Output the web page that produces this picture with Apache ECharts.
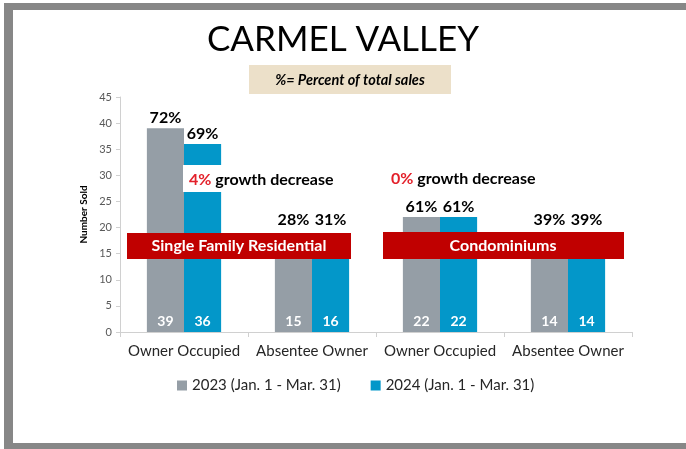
<!DOCTYPE html>
<html>
<head>
<meta charset="utf-8">
<title>Carmel Valley</title>
<script src="https://cdn.jsdelivr.net/npm/echarts@6/dist/echarts.min.js"></script>
<style>
  html, body { margin: 0; padding: 0; background: #fff; }
  #chart { width: 686px; height: 449px; }
</style>
</head>
<body>
<div id="chart"></div>
<script>
// data
const categories = ['Owner Occupied', 'Absentee Owner', 'Owner Occupied', 'Absentee Owner'];
const seriesNames = ['2023 (Jan. 1 - Mar. 31)', '2024 (Jan. 1 - Mar. 31)'];
const sold2023 = [39, 15, 22, 14];
const sold2024 = [36, 16, 22, 14];
const pct2023 = ['72%', '28%', '61%', '39%'];
const pct2024 = ['69%', '31%', '61%', '39%'];
const growth = ['4%', '0%'];
const groups = ['Single Family Residential', 'Condominiums'];

const GRAY = '#959ea6';
const BLUE = '#0397c9';
const RED_BANNER = '#c00000';
const RED_TEXT = '#e3202a';
const FONT = 'Lato, "Open Sans", sans-serif';
const LABEL_FLOOR = 19.5; // percent labels never sit below the red banners

const chart = echarts.init(document.getElementById('chart'));

const barLabel = {
  show: true,
  position: 'insideBottom',
  distance: 4,
  color: '#fff',
  fontWeight: 'bold',
  fontSize: 14,
  fontFamily: FONT
};

const option = {
  backgroundColor: '#fff',
  animation: false,
  title: {
    text: 'CARMEL VALLEY',
    left: 'center',
    top: 17,
    textStyle: { fontFamily: FONT, fontSize: 35, fontWeight: 'normal', color: '#000' }
  },
  legend: {
    data: seriesNames,
    top: 373,
    left: 172,
    icon: 'rect',
    itemWidth: 10,
    itemHeight: 10,
    itemGap: 30,
    textStyle: { fontFamily: FONT, fontSize: 15, color: '#262626' }
  },
  grid: { left: 120, right: 54, top: 97, bottom: 117 },
  xAxis: {
    type: 'category',
    data: categories,
    axisLine: { lineStyle: { color: '#d0d0d0' } },
    axisTick: { show: true, length: 5, lineStyle: { color: '#d0d0d0' } },
    axisLabel: { fontFamily: FONT, fontSize: 15, color: '#262626', margin: 12, interval: 0 }
  },
  yAxis: {
    type: 'value',
    min: 0,
    max: 45,
    interval: 5,
    name: 'Number Sold',
    nameLocation: 'middle',
    nameRotate: 90,
    nameGap: 26,
    nameTextStyle: { fontFamily: FONT, fontSize: 10, fontWeight: 'bold', color: '#000' },
    axisLine: { show: true, lineStyle: { color: '#d0d0d0' } },
    axisTick: { show: true, length: 4, lineStyle: { color: '#d0d0d0' } },
    splitLine: { show: false },
    axisLabel: { fontFamily: FONT, fontSize: 11, color: '#595959', margin: 8 }
  },
  series: [
    {
      name: seriesNames[0],
      type: 'bar',
      data: sold2023,
      barWidth: '29%',
      barGap: '0%',
      itemStyle: { color: GRAY },
      label: barLabel
    },
    {
      name: seriesNames[1],
      type: 'bar',
      data: sold2024,
      barWidth: '29%',
      barGap: '0%',
      itemStyle: { color: BLUE },
      label: barLabel
    },
    {
      // percent-of-sales labels above each bar
      type: 'custom',
      silent: true,
      z: 5,
      encode: { x: 0, y: [1, 2] },
      data: categories.map((c, i) => [i, sold2023[i], sold2024[i]]),
      renderItem: function (params, api) {
        const i = api.value(0);
        const w = api.size([1, 0])[0] * 0.29;
        const vals = [api.value(1), api.value(2)];
        const texts = [pct2023[i], pct2024[i]];
        return {
          type: 'group',
          children: vals.map((v, s) => {
            const p = api.coord([i, Math.max(v, LABEL_FLOOR)]);
            return {
              type: 'text',
              style: {
                text: texts[s],
                x: p[0] + (s === 0 ? -w / 2 : w / 2),
                y: p[1] - 2,
                align: 'center',
                verticalAlign: 'bottom',
                fontFamily: FONT,
                fontSize: 16,
                fontWeight: 'bold',
                fill: '#000'
              }
            };
          })
        };
      }
    }
  ],
  graphic: [
    // grey frame
    { type: 'rect', shape: { x: 4, y: 3, width: 682, height: 7 }, style: { fill: '#878787' }, z: 100 },
    { type: 'rect', shape: { x: 4, y: 3, width: 9, height: 446 }, style: { fill: '#878787' }, z: 100 },
    { type: 'rect', shape: { x: 4, y: 443, width: 682, height: 6 }, style: { fill: '#878787' }, z: 100 },
    // subtitle box
    { type: 'rect', shape: { x: 249, y: 65, width: 202, height: 29 }, style: { fill: '#ece0c9' }, z: 100 },
    {
      type: 'text', x: 350, y: 80, z: 101,
      style: {
        text: '%= Percent of total sales', align: 'center', verticalAlign: 'middle',
        fontFamily: FONT, fontSize: 14.5, fontWeight: 'bold', fontStyle: 'italic', fill: '#000'
      }
    },
    // growth notes
    { type: 'rect', shape: { x: 183, y: 165, width: 152, height: 27 }, style: { fill: '#fff' }, z: 100 },
    {
      type: 'text', x: 189, y: 180, z: 101,
      style: {
        text: '{r|' + growth[0] + '} growth decrease', verticalAlign: 'middle',
        fontFamily: FONT, fontSize: 16, fontWeight: 'bold', fill: '#000',
        rich: { r: { fill: RED_TEXT, fontFamily: FONT, fontSize: 16, fontWeight: 'bold' } }
      }
    },
    {
      type: 'text', x: 391, y: 179, z: 101,
      style: {
        text: '{r|' + growth[1] + '} growth decrease', verticalAlign: 'middle',
        fontFamily: FONT, fontSize: 16, fontWeight: 'bold', fill: '#000',
        rich: { r: { fill: RED_TEXT, fontFamily: FONT, fontSize: 16, fontWeight: 'bold' } }
      }
    },
    // red banners
    { type: 'rect', shape: { x: 127, y: 233, width: 224, height: 26 }, style: { fill: RED_BANNER }, z: 100 },
    {
      type: 'text', x: 239, y: 246, z: 101,
      style: {
        text: groups[0], align: 'center', verticalAlign: 'middle',
        fontFamily: FONT, fontSize: 16, fontWeight: 'bold', fill: '#fff'
      }
    },
    { type: 'rect', shape: { x: 383, y: 232, width: 241, height: 27 }, style: { fill: RED_BANNER }, z: 100 },
    {
      type: 'text', x: 503, y: 246, z: 101,
      style: {
        text: groups[1], align: 'center', verticalAlign: 'middle',
        fontFamily: FONT, fontSize: 16, fontWeight: 'bold', fill: '#fff'
      }
    }
  ]
};

chart.setOption(option);
window.addEventListener('resize', () => chart.resize());
</script>
</body>
</html>
